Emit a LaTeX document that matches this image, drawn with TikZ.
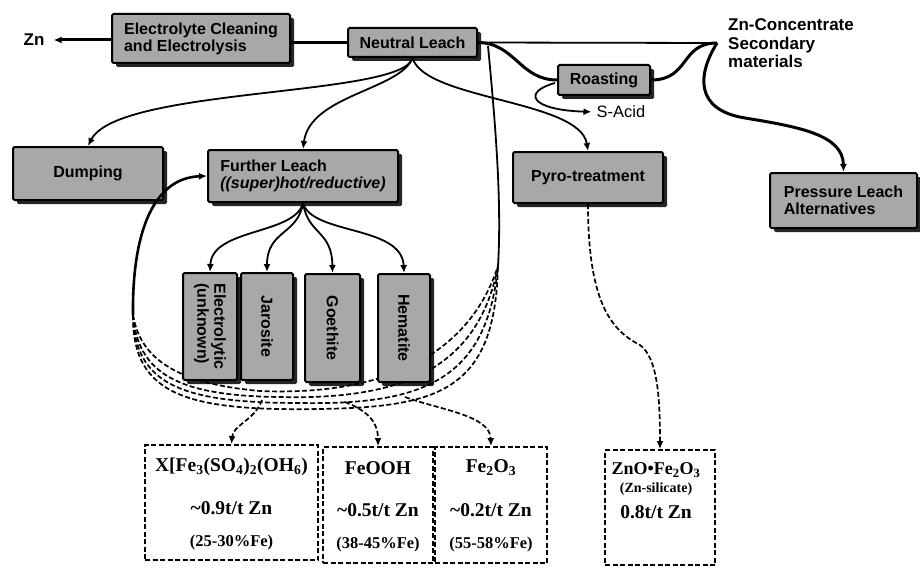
\documentclass[tikz,border=0pt]{standalone}
\usepackage{fontspec}
\setmainfont{Liberation Serif}
\setsansfont{Liberation Sans}
\usetikzlibrary{arrows.meta,shadows,calc}
\begin{document}
\begin{tikzpicture}[x=1pt,y=-1pt,
  box/.style={draw=black, line width=2pt, fill=black!34, rounded corners=1.5pt,
    drop shadow={shadow xshift=4pt, shadow yshift=-4pt, fill=black, opacity=0.85},
    font=\sffamily\bfseries\fontsize{16}{17}\selectfont, inner sep=0pt, align=left},
  vtext/.style={rotate=-90, font=\sffamily\bfseries\fontsize{16}{17}\selectfont, inner sep=0pt, align=left},
  lbl/.style={font=\sffamily\bfseries\fontsize{17}{18.5}\selectfont, inner sep=0pt, align=left},
  prod/.style={draw=black, line width=1.8pt, dash pattern=on 5pt off 2.5pt, fill=white},
  ptext/.style={font=\rmfamily\bfseries\fontsize{19.5}{21}\selectfont, inner sep=0pt},
  psmall/.style={font=\rmfamily\bfseries\fontsize{16.5}{18}\selectfont, inner sep=0pt},
  pxs/.style={font=\rmfamily\bfseries\fontsize{14}{15}\selectfont, inner sep=0pt},
  conn/.style={draw=black, line width=1.8pt},
  thickconn/.style={draw=black, line width=3pt},
  loopconn/.style={draw=black, line width=2.6pt},
  dconn/.style={draw=black, line width=1.7pt, dash pattern=on 5pt off 2.5pt},
  tip/.style={-{Latex[length=8pt,width=7pt]}},
]
\fill[white] (0,0) rectangle (920,567);
\useasboundingbox (0,0) rectangle (920,567);

% named free points
\coordinate (cz) at (717,43);
\coordinate (L) at (133,315);
\coordinate (R) at (498,266);
\coordinate (nj) at (488,46);
\coordinate (j1) at (262,400);
\coordinate (j2) at (345,402);
\coordinate (j3) at (405,397);

% dashed recycle bundle (drawn first, beneath boxes)
\draw[dconn] (L) .. controls (140,355) and (170,383) .. (260,391) .. controls (380,396) and (468,358) .. (R);
\draw[dconn] (L) .. controls (138,372) and (175,396) .. (280,397) .. controls (400,400) and (478,370) .. (R);
\draw[dconn] (L) .. controls (135,385) and (182,403) .. (300,403) .. controls (420,405) and (487,382) .. (R);
\draw[dconn] (L) .. controls (132,397) and (190,411) .. (320,409) .. controls (440,407) and (495,390) .. (R);

% boxes
\node[box, minimum width=178pt, minimum height=49pt] (elec) at (201,38.5) {Electrolyte Cleaning\\and Electrolysis};
\node[box, minimum width=129pt, minimum height=29pt] (neutral) at (412.5,42.5) {Neutral Leach};
\node[box, minimum width=92pt, minimum height=30pt] (roast) at (604,80) {Roasting};
\node[box, minimum width=150pt, minimum height=53pt] (dump) at (88,173.5) {Dumping};
\node[box, minimum width=190pt, minimum height=52pt] (further) at (303,176) {Further Leach\\\textit{((super)hot/reductive)}};
\node[box, minimum width=150pt, minimum height=51pt] (pyro) at (588,177.5) {Pyro-treatment};
\node[box, minimum width=147pt, minimum height=55pt] (press) at (843.5,200.5) {Pressure Leach\\Alternatives};

\node[box, minimum width=54pt, minimum height=107pt] (el) at (210,326.5) {};
\node[box, minimum width=52pt, minimum height=107pt] (jar) at (267,326.5) {};
\node[box, minimum width=55pt, minimum height=108pt] (goe) at (332.5,328) {};
\node[box, minimum width=52pt, minimum height=108pt] (hem) at (404,328) {};
\node[vtext] (elt) at (el.center) {Electrolytic\\(unknown)};
\node[vtext] (jart) at (jar.center) {Jarosite};
\node[vtext] (goet) at (goe.center) {Goethite};
\node[vtext] (hemt) at (hem.center) {Hematite};

% free labels
\node[lbl] (zn) at (34,40) {Zn};
\node[lbl, anchor=west] (conc) at (728,43.5) {Zn-Concentrate\\Secondary\\materials};
\node[font=\sffamily\fontsize{16.5}{17}\selectfont, inner sep=0pt] (sacid) at (621,112) {S-Acid};

% product boxes
\node[prod, minimum width=173pt, minimum height=115pt] (p1) at (231.5,502.5) {};
\node[prod, minimum width=110pt, minimum height=116pt] (p2) at (378,505) {};
\node[prod, minimum width=112pt, minimum height=116pt] (p3) at (491,505) {};
\node[prod, minimum width=110pt, minimum height=115pt] (p4) at (660,507.5) {};

\node[ptext] (p1a) at (231.5,467) {X[Fe\textsubscript{3}(SO\textsubscript{4})\textsubscript{2}(OH\textsubscript{6})};
\node[ptext] (p1b) at (231.5,508) {\textasciitilde0.9t/t Zn};
\node[psmall] (p1c) at (231.5,543) {(25-30\%Fe)};
\node[ptext] (p2a) at (378,468) {FeOOH};
\node[ptext] (p2b) at (378,510) {\textasciitilde0.5t/t Zn};
\node[psmall] (p2c) at (378,545) {(38-45\%Fe)};
\node[ptext] (p3a) at (491,468) {Fe\textsubscript{2}O\textsubscript{3}};
\node[ptext] (p3b) at (491,510) {\textasciitilde0.2t/t Zn};
\node[psmall] (p3c) at (491,545) {(55-58\%Fe)};
\node[ptext, font=\rmfamily\bfseries\fontsize{18}{20}\selectfont] (p4a) at (656,470) {ZnO•Fe\textsubscript{2}O\textsubscript{3}};
\node[pxs] (p4b) at (656,489) {(Zn-silicate)};
\node[ptext] (p4c) at (656,512) {0.8t/t Zn};

% top line
\draw[thickconn, tip, shorten >=9pt] (elec.west |- 0,40) -- (zn.east);
\draw[thickconn] (neutral.west) -- (neutral.west -| elec.east);
\draw[conn] (neutral.east) -- (cz);
\draw[thickconn] (neutral.east) .. controls (515,43) and (520,80) .. (roast.west);
\draw[thickconn] (roast.east) .. controls (690,80) and (680,43) .. (cz);
\draw[thickconn, tip] (cz) .. controls (697,75) and (695,110) .. (745,118) .. controls (800,127) and (843,135) .. (press.north);
\draw[conn, tip, shorten >=5pt] ($(roast.west)+(-2,3)$) .. controls (522,92) and (530,110) .. (sacid.west);

% from Neutral Leach
\draw[conn, tip] (neutral.south) .. controls (403,97) and (118,87) .. (dump.north);
\draw[conn, tip] (neutral.south) .. controls (400,90) and (310,95) .. (further.north);
\draw[conn, tip] (neutral.south) .. controls (425,100) and (580,100) .. (pyro.north);

% Further Leach to precipitation routes
\draw[conn, tip] (further.south) .. controls (295,235) and (212,228) .. (el.north);
\draw[conn, tip] (further.south) .. controls (298,235) and (267,230) .. (jar.north);
\draw[conn, tip] (further.south) .. controls (308,235) and (332,230) .. (goe.north);
\draw[conn, tip] (further.south) .. controls (312,235) and (402,225) .. (hem.north);

% recycle solid parts
\draw[loopconn, tip] (L) .. controls (132,240) and (150,178) .. (further.west);
\draw[conn] (nj) .. controls (495,120) and (502,200) .. (R);

% products
\draw[dconn, tip] (j1) .. controls (255,420) and (233,425) .. (p1.north);
\draw[dconn, tip] (j2) .. controls (365,410) and (378,420) .. (p2.north);
\draw[dconn, tip] (j3) .. controls (440,410) and (490,415) .. (p3.north);
\draw[dconn, tip] (pyro.south) .. controls (588,300) and (610,330) .. (640,345) .. controls (658,358) and (660,400) .. (p4.north);
\end{tikzpicture}
\end{document}
